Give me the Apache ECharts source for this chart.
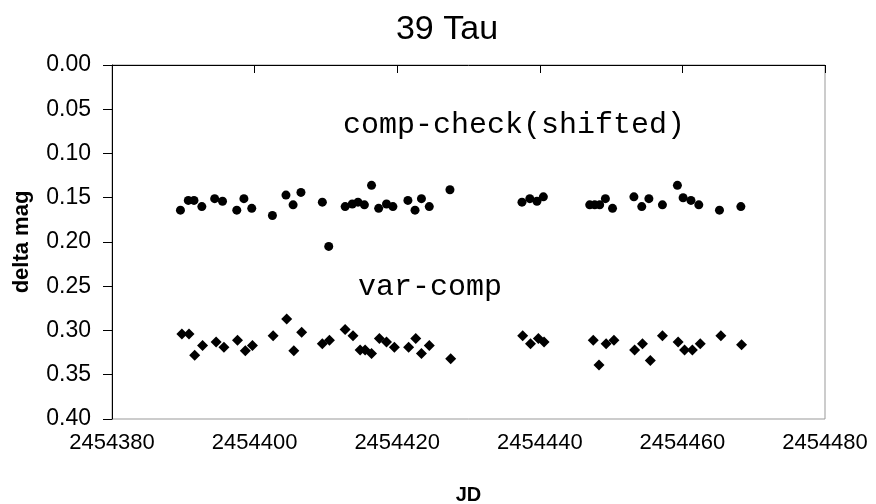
<!DOCTYPE html>
<html>
<head>
<meta charset="utf-8">
<script src="https://cdn.jsdelivr.net/npm/echarts@6/dist/echarts.min.js"></script>
<style>
  html, body { margin: 0; padding: 0; background: #fff; }
  #chart { width: 876px; height: 504px; }
</style>
</head>
<body>
<div id="chart"></div>
<script>
// comp-check (shifted): JD and delta mag
var jdCheck = [
  2454389.6, 2454390.7, 2454391.5, 2454392.6, 2454394.4, 2454395.5, 2454397.5, 2454398.5,
  2454399.6, 2454402.5, 2454404.4, 2454405.4, 2454406.5, 2454409.5, 2454410.4, 2454412.7,
  2454413.7, 2454414.5, 2454415.4, 2454416.4, 2454417.4, 2454418.5, 2454419.4, 2454421.5,
  2454422.5, 2454423.4, 2454424.5, 2454427.4, 2454437.5, 2454438.6, 2454439.6, 2454440.5,
  2454447.0, 2454447.7, 2454448.4, 2454449.2, 2454450.2, 2454453.2, 2454454.3, 2454455.3,
  2454457.2, 2454459.3, 2454460.1, 2454461.2, 2454462.3, 2454465.2, 2454468.2
];
var magCheck = [
  0.164, 0.153, 0.153, 0.160, 0.151, 0.154, 0.164, 0.151,
  0.162, 0.170, 0.147, 0.158, 0.144, 0.155, 0.205, 0.160,
  0.157, 0.155, 0.158, 0.136, 0.162, 0.157, 0.160, 0.153,
  0.164, 0.151, 0.160, 0.141, 0.155, 0.151, 0.154, 0.149,
  0.158, 0.158, 0.158, 0.151, 0.162, 0.149, 0.160, 0.151,
  0.158, 0.136, 0.150, 0.153, 0.158, 0.164, 0.160
];

// var-comp
var jdVar = [
  2454389.8, 2454390.8, 2454391.6, 2454392.7, 2454394.6, 2454395.7, 2454397.6, 2454398.7,
  2454399.7, 2454402.6, 2454404.5, 2454405.5, 2454406.6, 2454409.5, 2454410.5, 2454412.7,
  2454413.8, 2454414.8, 2454415.5, 2454416.4, 2454417.5, 2454418.5, 2454419.6, 2454421.6,
  2454422.6, 2454423.4, 2454424.5, 2454427.5, 2454437.6, 2454438.7, 2454439.8, 2454440.6,
  2454447.5, 2454448.3, 2454449.3, 2454450.4, 2454453.3, 2454454.4, 2454455.5, 2454457.2,
  2454459.4, 2454460.3, 2454461.4, 2454462.5, 2454465.4, 2454468.3
];
var magVar = [
  0.304, 0.304, 0.328, 0.317, 0.313, 0.319, 0.311, 0.323,
  0.317, 0.306, 0.287, 0.323, 0.302, 0.315, 0.311, 0.299,
  0.306, 0.322, 0.322, 0.326, 0.309, 0.313, 0.319, 0.319,
  0.309, 0.326, 0.317, 0.332, 0.306, 0.315, 0.309, 0.313,
  0.311, 0.339, 0.315, 0.311, 0.322, 0.315, 0.334, 0.306,
  0.313, 0.322, 0.322, 0.315, 0.306, 0.316
];

var xTicks = { min: 2454380, max: 2454480, step: 20 };
var yTicks = { min: 0, max: 0.4, step: 0.05 };

function pairs(xs, ys) {
  var out = [];
  for (var i = 0; i < xs.length; i++) out.push([xs[i], ys[i]]);
  return out;
}

var myChart = echarts.init(document.getElementById('chart'));
var sans = 'Liberation Sans, Arial, sans-serif';
var mono = 'Liberation Mono, Courier New, monospace';

var option = {
  backgroundColor: '#fff',
  animation: false,
  title: {
    text: '39 Tau',
    left: 442,
    textAlign: 'center',
    top: 8,
    textStyle: { fontFamily: sans, fontSize: 34, fontWeight: 'normal', color: '#000' }
  },
  grid: {
    left: 112, top: 65, right: 51, bottom: 85,
    outerBoundsMode: 'none',
    containLabel: false,
    show: true, borderColor: '#999', borderWidth: 1, backgroundColor: '#fff'
  },
  xAxis: {
    type: 'value',
    min: xTicks.min, max: xTicks.max, interval: xTicks.step,
    name: 'JD',
    nameLocation: 'middle',
    nameGap: 66,
    nameTextStyle: { fontFamily: sans, fontSize: 20, fontWeight: 'bold', color: '#000' },
    axisLine: { show: true, lineStyle: { color: '#000', width: 1 } },
    axisTick: { show: true, inside: false, length: 8, lineStyle: { color: '#000' } },
    axisLabel: {
      margin: 13, color: '#000', fontFamily: sans, fontSize: 22,
      formatter: function (v) { return String(v); }
    },
    splitLine: { show: false }
  },
  yAxis: {
    type: 'value',
    inverse: true,
    min: yTicks.min, max: yTicks.max, interval: yTicks.step,
    name: 'delta mag',
    nameLocation: 'middle',
    nameGap: 79,
    nameTextStyle: { fontFamily: sans, fontSize: 22, fontWeight: 'bold', color: '#000' },
    axisLine: { show: true, lineStyle: { color: '#000', width: 1 } },
    axisTick: { show: true, inside: false, length: 9, lineStyle: { color: '#000' } },
    axisLabel: {
      margin: 21, color: '#000', fontFamily: sans, fontSize: 23,
      formatter: function (v) { return v.toFixed(2); }
    },
    splitLine: { show: false }
  },
  graphic: [
    {
      type: 'text', left: 343, top: 110,
      style: { text: 'comp-check(shifted)', fontFamily: mono, fontSize: 30, fill: '#000' }
    },
    {
      type: 'text', left: 358, top: 272,
      style: { text: 'var-comp', fontFamily: mono, fontSize: 30, fill: '#000' }
    }
  ],
  series: [
    {
      name: 'comp-check',
      type: 'scatter',
      symbol: 'circle',
      symbolSize: 9,
      itemStyle: { color: '#000', opacity: 1 },
      data: pairs(jdCheck, magCheck)
    },
    {
      name: 'var-comp',
      type: 'scatter',
      symbol: 'diamond',
      symbolSize: 11,
      itemStyle: { color: '#000', opacity: 1 },
      data: pairs(jdVar, magVar)
    }
  ]
};

myChart.setOption(option);
</script>
</body>
</html>
